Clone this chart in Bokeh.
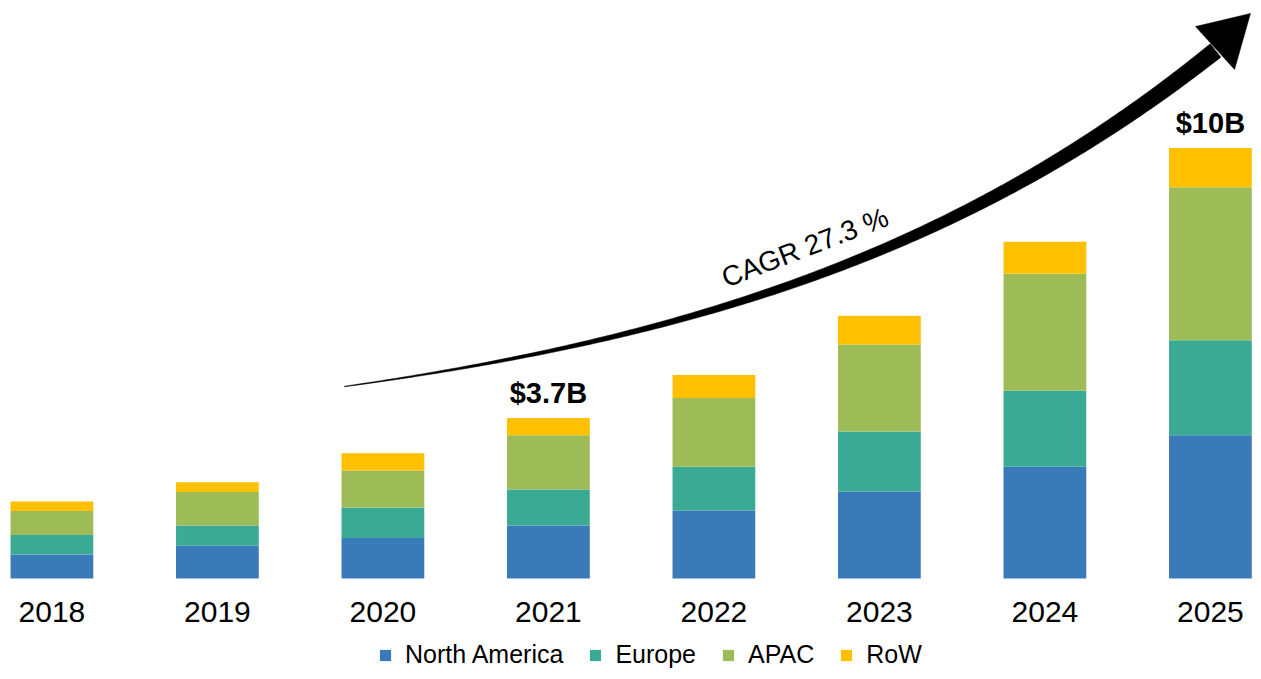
import numpy as np
from bokeh.plotting import figure
from bokeh.models import ColumnDataSource, Range1d
from bokeh.core.properties import value
from bokeh.embed import file_html
from bokeh.resources import INLINE

# ---------------- data ----------------
years = ["2018", "2019", "2020", "2021", "2022", "2023", "2024", "2025"]
regions = ["North America", "Europe", "APAC", "RoW"]
north_america = [0.56, 0.76, 0.94, 1.23, 1.58, 2.02, 2.60, 3.33]
europe = [0.45, 0.47, 0.71, 0.84, 1.02, 1.40, 1.77, 2.21]
apac = [0.56, 0.78, 0.86, 1.26, 1.60, 2.02, 2.72, 3.56]
row = [0.22, 0.23, 0.40, 0.40, 0.53, 0.67, 0.74, 0.91]
colors = ["#3A7AB9", "#3BAA95", "#9DBB57", "#FFC000"]

label_years = ["2021", "2025"]
label_texts = ["$3.7B", "$10B"]
cagr_text = "CAGR 27.3 %"

# arrow annotation (data units: x = category index, y = $B)
arrow_p0 = (1.768, 4.465)
arrow_p1 = (3.883, 5.605)
arrow_p2 = (5.520, 7.628)
arrow_p3 = (7.031, 12.279)
arrow_head = [(7.242, 13.14), (6.910, 12.837), (7.146, 11.837)]
cagr_pos = (4.55, 7.70)
cagr_angle_deg = 21.0

FONT = "Liberation Sans"

# ---------------- figure ----------------
W, H = 1253, 671
x0, x1 = -0.3106, 7.2604
y0, y1 = -2.163, 13.442

p = figure(width=W, height=H, x_range=Range1d(x0, x1), y_range=Range1d(y0, y1),
           output_backend="svg", toolbar_location=None, min_border=0)
p.axis.visible = False
p.grid.visible = False
p.outline_line_color = None
p.background_fill_color = "white"
p.border_fill_color = "white"

xs = list(range(len(years)))
source = ColumnDataSource(dict(x=xs, year=years, **{
    "North America": north_america, "Europe": europe, "APAC": apac, "RoW": row}))

p.vbar_stack(regions, x="x", width=0.5, color=colors, line_color=None,
             source=source, legend_label=regions)

# year labels
p.text(x="x", y=-0.79, text="year", source=source,
       text_font=value(FONT), text_font_size="30px", text_color="#000000",
       text_align="center", text_baseline="alphabetic")

# total labels
totals = [a + b + c + d for a, b, c, d in zip(north_america, europe, apac, row)]
lx = [years.index(yv) for yv in label_years]
ly = [totals[i] for i in lx]
p.text(x=lx, y=ly, text=label_texts, y_offset=-25,
       text_font=value(FONT), text_font_size="29px", text_font_style="bold",
       text_color="#000000", text_align="center", text_baseline="alphabetic")

# ---------------- curved tapered arrow ----------------
sx = W / (x1 - x0)
sy = H / (y1 - y0)
P = np.array([arrow_p0, arrow_p1, arrow_p2, arrow_p3]) * np.array([sx, sy])
t = np.linspace(0, 1, 200)[:, None]
curve = ((1 - t) ** 3) * P[0] + 3 * ((1 - t) ** 2) * t * P[1] + 3 * (1 - t) * t ** 2 * P[2] + t ** 3 * P[3]
deriv = 3 * ((1 - t) ** 2) * (P[1] - P[0]) + 6 * (1 - t) * t * (P[2] - P[1]) + 3 * t ** 2 * (P[3] - P[2])
tang = deriv / np.linalg.norm(deriv, axis=1)[:, None]
normal = np.column_stack([-tang[:, 1], tang[:, 0]])
width = 0.6 + 16.5 * t[:, 0] ** 1.05
upper = curve + normal * (width[:, None] / 2)
lower = curve - normal * (width[:, None] / 2)
poly = np.vstack([upper, lower[::-1]])
p.patch(poly[:, 0] / sx, poly[:, 1] / sy, fill_color="black", line_color="black", line_width=0.5)

hx = [pt[0] for pt in arrow_head]
hy = [pt[1] for pt in arrow_head]
p.patch(hx, hy, fill_color="black", line_color="black", line_width=0.5)

p.text(x=[cagr_pos[0]], y=[cagr_pos[1]], text=[cagr_text], angle=np.deg2rad(cagr_angle_deg),
       text_font=value(FONT), text_font_size="28px", text_color="#000000",
       text_align="center", text_baseline="middle")

# ---------------- legend ----------------
lg = p.legend[0]
lg.location = (378, 2)
lg.orientation = "horizontal"
lg.label_text_font = FONT
lg.label_text_font_size = "25px"
lg.label_text_color = "#000000"
lg.glyph_width = 14
lg.glyph_height = 14
lg.label_standoff = 13
lg.spacing = 25
lg.padding = 0
lg.margin = 0
lg.border_line_color = None
lg.background_fill_alpha = 0

open("out.html", "w").write(file_html(p, INLINE))
